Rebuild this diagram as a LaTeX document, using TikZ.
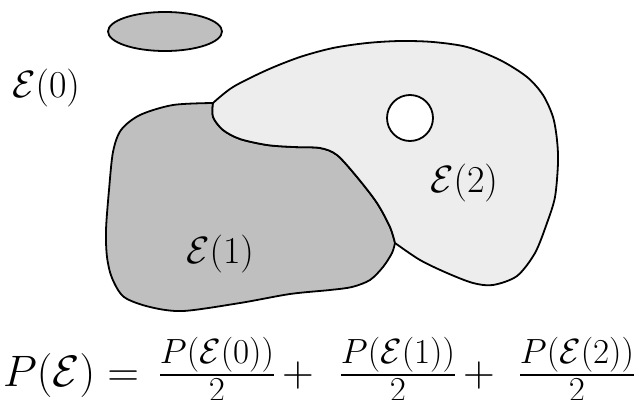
\RequirePackage{fix-cm}
\documentclass[tikz,border=0pt]{standalone}
\usepackage{amsmath,amssymb}
\usepackage{tikz}
\usetikzlibrary{positioning}
\newcommand{\fracpart}{\fontsize{35}{40}\selectfont}
\newcommand{\halfof}[1]{\frac{\mbox{\fracpart$#1$}}{\mbox{\fracpart$2$}}}
\tikzset{
  regionDark/.style={draw=black, fill=gray!50, line width=1.8pt, line join=round},
  regionLight/.style={draw=black, fill=black!7, line width=1.8pt, line join=round},
  holeW/.style={draw=black, fill=white, line width=1.8pt},
  setlab/.style={font=\fontsize{38}{42}\selectfont, anchor=base, inner sep=0pt},
  formula/.style={font=\fontsize{44}{48}\selectfont, anchor=base, inner sep=0pt},
}

\begin{document}
\begin{tikzpicture}[x=1pt, y=-1pt]
    \useasboundingbox (0,0) rectangle (640,399);

    % E(0): the small ellipse
    \draw[regionDark] (165,31.5) ellipse [x radius=57, y radius=19.5];

    % E(1)
    \draw[regionDark]
      plot[smooth] coordinates {(213,103) (173,105) (140,115) (121,130) (113,152)
        (109,190) (106,230) (107,257) (112,278) (124,297) (150,307) (183,311)
        (240,303) (290,294) (330,290) (352,287) (370,280) (383,267) (392,253) (395,243)}
      -- plot[smooth] coordinates {(395,243) (390,227) (377,203) (357,177) (337,155)
        (320,148) (293,147) (267,145) (240,139) (223,130) (213,117) (213,103)}
      -- cycle;

    % E(2)
    \draw[regionLight]
      plot[smooth] coordinates {(213,103) (233,87) (267,70) (300,57) (333,48) (367,43)
        (400,41) (433,42) (467,47) (500,60) (527,77) (543,95) (553,117) (557,140)
        (558,163) (555,197) (547,223) (535,253) (517,276) (493,285) (473,283)
        (447,273) (420,260) (395,243)}
      -- plot[smooth] coordinates {(395,243) (390,227) (377,203) (357,177) (337,155)
        (320,148) (293,147) (267,145) (240,139) (223,130) (213,117) (213,103)}
      -- cycle;
    \draw[holeW] (410,118) circle [radius=23];

    % labels
    \node[setlab] (L0) at (46,97.5)   {$\mathcal{E}(0)$};
    \node[setlab] (L1) at (220,263.5) {$\mathcal{E}(1)$};
    \node[setlab] (L2) at (464,192.5) {$\mathcal{E}(2)$};

    % formula
    \node[formula, anchor=base west] (Fl) at (3,386) {$P(\mathcal{E}) =$};
    \node[formula] (F0) at (217,386) {$\halfof{P(\mathcal{E}(0))}$};
    \node[formula] (p1) at (298,386) {$+$};
    \node[formula] (F1) at (398,386) {$\halfof{P(\mathcal{E}(1))}$};
    \node[formula] (p2) at (479,386) {$+$};
    \node[formula] (F2) at (577,386) {$\halfof{P(\mathcal{E}(2))}$};
\end{tikzpicture}
\end{document}
